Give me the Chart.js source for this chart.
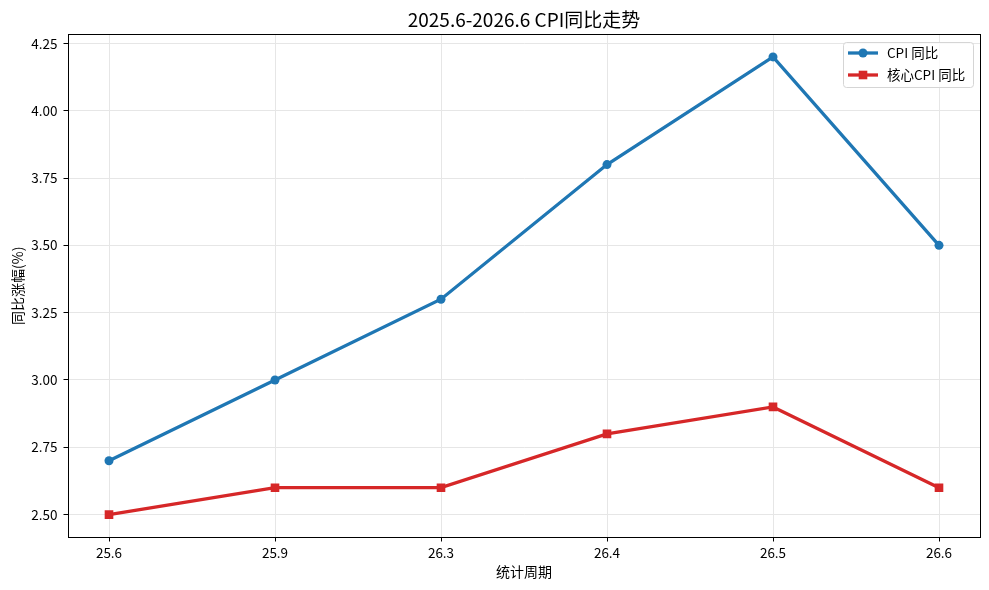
<!DOCTYPE html>
<html>
<head>
<meta charset="utf-8">
<script src="https://cdn.jsdelivr.net/npm/chart.js@4/dist/chart.umd.min.js"></script>
<style>
  html, body { margin: 0; padding: 0; background: #fff; }
  #wrap { width: 989px; height: 590px; }
</style>
</head>
<body>
<div id="wrap"><canvas id="cpiChart" width="989" height="590"></canvas></div>
<script>
const periods = ["25.6", "25.9", "26.3", "26.4", "26.5", "26.6"];
const cpiValues = [2.7, 3.0, 3.3, 3.8, 4.2, 3.5];
const coreValues = [2.5, 2.6, 2.6, 2.8, 2.9, 2.6];
const yTicks = [2.5, 2.75, 3.0, 3.25, 3.5, 3.75, 4.0, 4.25];
const chartTitle = "2025.6-2026.6 CPI同比走势";

const FONT = "'Noto Sans CJK SC', 'Noto Sans', sans-serif";
const BLUE = "#1f77b4";
const RED = "#d62728";

const toPoints = vals => vals.map((v, i) => ({ x: i, y: v }));

// title over the plot area, frame, matplotlib style legend
const framePlugin = {
  id: "frame",
  afterDraw(chart) {
    const { ctx, chartArea: a } = chart;
    ctx.save();

    ctx.fillStyle = "#000";
    ctx.font = "19px " + FONT;
    ctx.textAlign = "center";
    ctx.textBaseline = "alphabetic";
    ctx.fillText(chartTitle, (a.left + a.right) / 2, 27);

    ctx.strokeStyle = "#000";
    ctx.lineWidth = 1;
    ctx.strokeRect(Math.round(a.left) + 0.5, Math.round(a.top) + 0.5,
      Math.round(a.right - a.left) - 1, Math.round(a.bottom - a.top) - 1);

    // legend box
    const bx = 843, by = 42, bw = 130, bh = 45;
    ctx.fillStyle = "rgba(255,255,255,0.8)";
    ctx.strokeStyle = "#d5d5d5";
    ctx.beginPath();
    ctx.roundRect(bx + 0.5, by + 0.5, bw, bh, 3);
    ctx.fill();
    ctx.stroke();

    ctx.font = "13.5px " + FONT;
    ctx.textAlign = "left";
    ctx.textBaseline = "middle";
    chart.data.datasets.forEach((ds, i) => {
      const y = 53 + i * 22;
      ctx.strokeStyle = ds.borderColor;
      ctx.lineWidth = 3.3;
      ctx.beginPath();
      ctx.moveTo(848, y);
      ctx.lineTo(878, y);
      ctx.stroke();
      ctx.fillStyle = ds.borderColor;
      if (ds.pointStyle === "rect") {
        ctx.fillRect(863 - 4.3, y - 4.3, 8.6, 8.6);
      } else {
        ctx.beginPath();
        ctx.arc(863, y, 4.5, 0, Math.PI * 2);
        ctx.fill();
      }
      ctx.fillStyle = "#000";
      ctx.fillText(ds.label, 887, y);
    });
    ctx.restore();
  }
};

new Chart(document.getElementById("cpiChart").getContext("2d"), {
  type: "line",
  data: {
    datasets: [
      {
        label: "CPI 同比",
        data: toPoints(cpiValues),
        borderColor: BLUE,
        backgroundColor: BLUE,
        borderWidth: 3.3,
        pointStyle: "circle",
        pointRadius: 4.5,
        pointBorderWidth: 0,
        tension: 0
      },
      {
        label: "核心CPI 同比",
        data: toPoints(coreValues),
        borderColor: RED,
        backgroundColor: RED,
        borderWidth: 3.3,
        pointStyle: "rect",
        pointRadius: 6.1,
        pointBorderWidth: 0,
        tension: 0
      }
    ]
  },
  options: {
    responsive: false,
    animation: false,
    layout: { padding: { left: 0, right: 8.5, top: 34, bottom: 0 }, autoPadding: false },
    plugins: {
      legend: { display: false },
      tooltip: { enabled: false },
      title: { display: false }
    },
    scales: {
      x: {
        type: "linear",
        min: -0.25,
        max: 5.25,
        afterBuildTicks: s => { s.ticks = periods.map((p, i) => ({ value: i })); },
        afterFit: s => { s.height = 52.5; },
        ticks: {
          callback: v => periods[v],
          color: "#000",
          font: { family: FONT, size: 13.5 },
          padding: 3,
          maxRotation: 0
        },
        grid: { color: "#e6e6e6", lineWidth: 1, tickColor: "#000", tickLength: 4 },
        border: { display: false },
        title: {
          display: true,
          text: "统计周期",
          color: "#000",
          font: { family: FONT, size: 14 },
          padding: { top: 0, bottom: 9.6 }
        }
      },
      y: {
        type: "linear",
        min: 2.415,
        max: 4.285,
        afterBuildTicks: s => { s.ticks = yTicks.map(v => ({ value: v })); },
        afterFit: s => { s.width = 67.5; },
        ticks: {
          callback: v => v.toFixed(2),
          color: "#000",
          font: { family: FONT, size: 13.5 },
          padding: 6
        },
        grid: { color: "#e6e6e6", lineWidth: 1, tickColor: "#000", tickLength: 4 },
        border: { display: false },
        title: {
          display: true,
          text: "同比涨幅(%)",
          color: "#000",
          font: { family: FONT, size: 14 },
          padding: { top: 9.6, bottom: 0 }
        }
      }
    }
  },
  plugins: [framePlugin]
});
</script>
</body>
</html>
